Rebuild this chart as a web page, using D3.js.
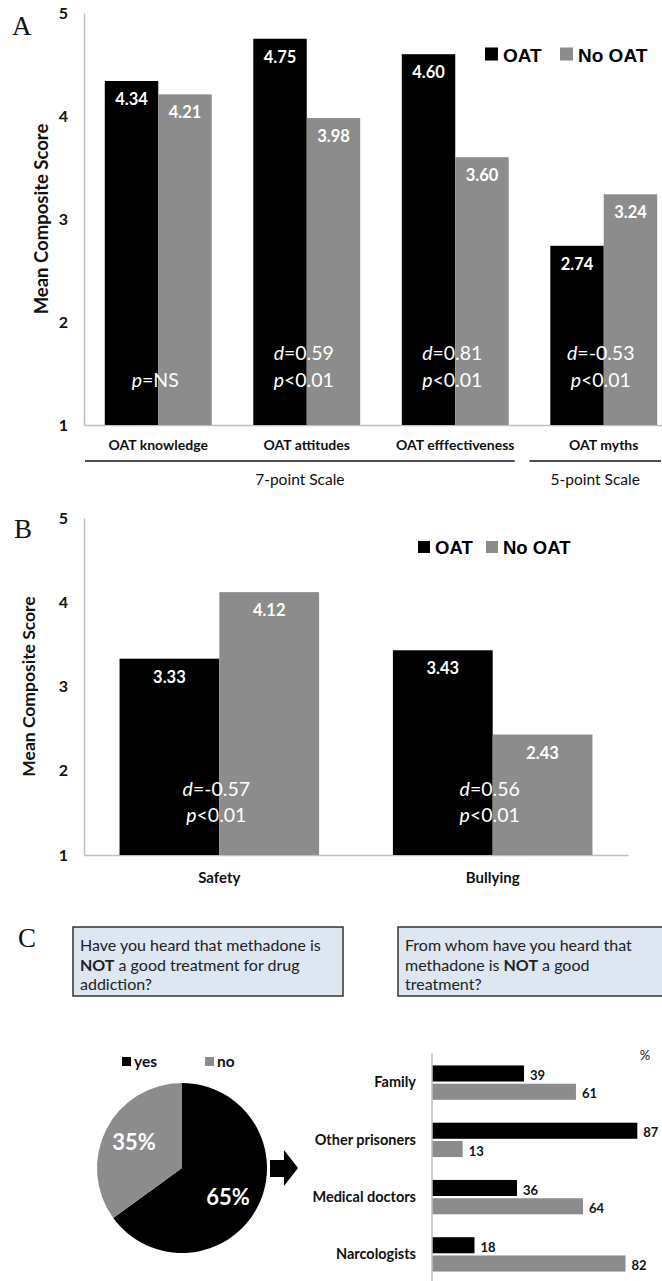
<!DOCTYPE html>
<html><head><meta charset="utf-8">
<script src="https://cdn.jsdelivr.net/npm/d3@7"></script>
<style>body{margin:0;background:#fff}svg{display:block}</style>
</head><body>
<svg id="c" width="662" height="1281"></svg>
<script>
// ---------- data ----------
const catsA = ["OAT knowledge","OAT attitudes","OAT efffectiveness","OAT myths"];
const oatA = [4.34,4.75,4.60,2.74];
const noOatA = [4.21,3.98,3.60,3.24];
const dA = [null,"0.59","0.81","-0.53"];
const pA = ["=NS","<0.01","<0.01","<0.01"];
const catsB = ["Safety","Bullying"];
const oatB = [3.33,3.43];
const noOatB = [4.12,2.43];
const dB = ["-0.57","0.56"];
const pB = ["<0.01","<0.01"];
const yTicks = [1,2,3,4,5];
const seriesNames = ["OAT","No OAT"];
const scaleGroups = [{label:"7-point Scale",from:0,to:2},{label:"5-point Scale",from:3,to:3}];
const pieLabels = ["yes","no"];
const pieValues = [65,35];
const sources = ["Family","Other prisoners","Medical doctors","Narcologists"];
const yesSrc = [39,87,36,18];
const noSrc = [61,13,64,82];
const q1 = [["Have you heard that methadone is"],["NOT"," a good treatment for drug"],["addiction?"]];
const q2 = [["From whom have you heard that"],["methadone is ","NOT"," a good"],["treatment?"]];

const BLACK="#000", GRAY="#8c8c8c", AX="#bfbfbf";
const F="Lato, 'Open Sans', sans-serif";
const svg = d3.select("#c");

function barPanel(o){
  const g = svg.append("g");
  const x = d3.scaleBand().domain(o.cats).range([84,o.xEnd]).paddingInner(o.pi).paddingOuter(o.po);
  const xs = d3.scaleBand().domain([0,1]).range([0,x.bandwidth()]);
  const y = d3.scaleLinear().domain([1,5]).range([o.y1,o.y5]);
  const ya = g.append("g").attr("transform","translate(84,0)")
    .call(d3.axisLeft(y).tickValues(yTicks).tickSize(0).tickPadding(16).tickFormat(d3.format("d")));
  ya.select(".domain").attr("stroke",AX).attr("stroke-width",1.5);
  ya.selectAll("text").attr("font-family",F).attr("font-weight","bold").attr("font-size",16).attr("fill","#111");
  const xa = g.append("g").attr("transform",`translate(0,${o.y1})`)
    .call(d3.axisBottom(x).tickSize(0).tickPadding(o.xPad));
  xa.select(".domain").attr("stroke",AX).attr("stroke-width",1.5);
  xa.selectAll("text").attr("font-family",F).attr("font-weight","bold").attr("font-size",o.xFs).attr("fill","#111");
  const rows = o.cats.map((c,i)=>({c,i,v:[o.oat[i],o.no[i]]}));
  const grp = g.selectAll("g.grp").data(rows).join("g").attr("class","grp")
    .attr("transform",d=>`translate(${x(d.c)},0)`);
  grp.selectAll("rect").data(d=>d.v.map((v,k)=>({v,k}))).join("rect")
    .attr("x",d=>xs(d.k)).attr("width",xs.bandwidth())
    .attr("y",d=>y(d.v)).attr("height",d=>y(1)-y(d.v))
    .attr("fill",d=>d.k===0?BLACK:GRAY);
  grp.selectAll("text.val").data(d=>d.v.map((v,k)=>({v,k}))).join("text").attr("class","val")
    .attr("x",d=>xs(d.k)+xs.bandwidth()/2).attr("y",d=>y(d.v)+24)
    .attr("text-anchor","middle").attr("font-family",F).attr("font-weight","bold")
    .attr("font-size",16.5).attr("fill","#fff").text(d=>d.v.toFixed(2));
  rows.forEach(r=>{
    const cx = x(r.c)+x.bandwidth()/2-3;
    const lines=[];
    if(o.d[r.i]!==null) lines.push(["d",o.d[r.i]]);
    lines.push(["p",o.p[r.i]]);
    const base = o.y1 - o.statOff;
    lines.forEach((ln,j)=>{
      const yy = base - (lines.length-1-j)*o.statGap;
      const t = g.append("text").attr("x",cx).attr("y",yy).attr("text-anchor","middle")
        .attr("font-family",F).attr("font-size",19.5).attr("fill","#fff");
      t.append("tspan").attr("font-style","italic").text(ln[0]);
      t.append("tspan").text(ln[0]==="d"?"="+ln[1]:ln[1]);
    });
  });
  g.append("text").attr("transform",`translate(${o.titleX},${(o.y1+o.y5)/2}) rotate(-90)`)
    .attr("text-anchor","middle").attr("dominant-baseline","central")
    .attr("font-family",F).attr("font-weight","bold").attr("font-size",o.titleFs).attr("fill","#111")
    .text("Mean Composite Score");
  g.append("text").attr("x",o.letterX).attr("y",o.letterY).attr("font-family","'Liberation Serif', serif")
    .attr("font-size",27).attr("fill","#111").text(o.letter);
  const lg = g.append("g").attr("transform",`translate(${o.legX},${o.legY})`);
  const lw = [0,o.legGap];
  seriesNames.forEach((s,k)=>{
    lg.append("rect").attr("x",lw[k]).attr("y",-o.legSq/2-1).attr("width",o.legSq).attr("height",o.legSq)
      .attr("fill",k===0?BLACK:GRAY);
    lg.append("text").attr("x",lw[k]+o.legSq+5).attr("y",0).attr("dy","0.35em")
      .attr("font-family","'Liberation Sans', Arial, sans-serif").attr("font-weight","bold")
      .attr("font-size",o.legFs).attr("fill","#000").text(s);
  });
  return {g,x,y};
}

const A = barPanel({cats:catsA,oat:oatA,no:noOatA,d:dA,p:pA,xEnd:678,pi:0.28,po:0.14,
  y1:425,y5:13,xPad:15,xFs:14,statOff:38,statGap:27,titleX:41,titleFs:18.5,letter:"A",letterX:12,letterY:35,
  legX:485,legY:55,legSq:13,legGap:75,legFs:19});
scaleGroups.forEach(sg=>{
  const x0 = sg.from===0 ? 85 : A.x(catsA[sg.from])-A.x.step()*0.14;
  const x1 = sg.to===catsA.length-1 ? 661 : A.x(catsA[sg.to])+A.x.bandwidth()+6;
  svg.append("line").attr("x1",x0).attr("x2",x1).attr("y1",461).attr("y2",461)
    .attr("stroke","#111").attr("stroke-width",1.5);
  svg.append("text").attr("x",(x0+x1)/2).attr("y",485).attr("text-anchor","middle")
    .attr("font-family",F).attr("font-size",15.5).attr("fill","#111").text(sg.label);
});

barPanel({cats:catsB,oat:oatB,no:noOatB,d:dB,p:pB,xEnd:628,pi:0.27,po:0.13,
  y1:855,y5:518,xPad:17,xFs:15,statOff:33,statGap:26,titleX:28,titleFs:17.5,letter:"B",letterX:14,letterY:538,
  legX:418,legY:548,legSq:12,legGap:68,legFs:18.5});

// ---------- Panel C ----------
svg.append("text").attr("x",18).attr("y",947).attr("font-family","'Liberation Serif', serif")
  .attr("font-size",27).attr("fill","#111").text("C");
function qbox(x0,x1,lines){
  svg.append("rect").attr("x",x0).attr("y",927).attr("width",x1-x0).attr("height",69)
    .attr("fill","#dde6f1").attr("stroke","#333").attr("stroke-width",1.5);
  lines.forEach((ln,i)=>{
    const t = svg.append("text").attr("x",x0+7).attr("y",951+i*19.5)
      .attr("font-family",F).attr("font-size",16).attr("fill","#222");
    ln.forEach(s=>t.append("tspan").attr("font-weight",s==="NOT"?"bold":"normal").text(s));
  });
}
qbox(73,343,q1);
qbox(398,668,q2);

const pie = d3.pie().sort(null).value(d=>d)(pieValues);
const arc = d3.arc().innerRadius(0).outerRadius(85);
const pg = svg.append("g").attr("transform","translate(182,1168)");
pg.selectAll("path").data(pie).join("path").attr("d",arc).attr("fill",(d,i)=>i===0?BLACK:GRAY);
const pieLblPos = [[46,37],[-48,-18]];
pg.selectAll("text").data(pie).join("text")
  .attr("x",(d,i)=>pieLblPos[i][0]).attr("y",(d,i)=>pieLblPos[i][1])
  .attr("text-anchor","middle").attr("font-family",F).attr("font-weight","bold").attr("font-size",22)
  .attr("fill","#fff").text(d=>d.value+"%");
const plx=[122,205];
pieLabels.forEach((l,i)=>{
  svg.append("rect").attr("x",plx[i]).attr("y",1057).attr("width",9).attr("height",9).attr("fill",i===0?BLACK:GRAY);
  svg.append("text").attr("x",plx[i]+12).attr("y",1062).attr("dy","0.35em")
    .attr("font-family",F).attr("font-weight","bold").attr("font-size",15.5).attr("fill","#111").text(l);
});
svg.append("path").attr("d","M270,1160 L284,1160 L284,1150 L298,1168 L284,1186 L284,1177 L270,1177 Z").attr("fill",BLACK);

const hx = d3.scaleLinear().domain([0,100]).range([432,668]);
const hy = d3.scaleBand().domain(sources).range([1054,1283]).paddingInner(0.4).paddingOuter(0.2);
const hs = d3.scaleBand().domain([0,1]).range([0,hy.bandwidth()]).paddingInner(0.12);
const hg = svg.append("g");
const hrows = sources.map((s,i)=>({s,v:[yesSrc[i],noSrc[i]]}));
const hgr = hg.selectAll("g").data(hrows).join("g").attr("transform",d=>`translate(0,${hy(d.s)})`);
hgr.selectAll("rect").data(d=>d.v.map((v,k)=>({v,k}))).join("rect")
  .attr("x",hx(0)).attr("y",d=>hs(d.k)).attr("width",d=>hx(d.v)-hx(0)).attr("height",hs.bandwidth())
  .attr("fill",d=>d.k===0?BLACK:GRAY);
hgr.selectAll("text").data(d=>d.v.map((v,k)=>({v,k}))).join("text")
  .attr("x",d=>hx(d.v)+6).attr("y",d=>hs(d.k)+hs.bandwidth()/2+2).attr("dy","0.35em")
  .attr("font-family",F).attr("font-weight","bold").attr("font-size",13).attr("fill","#111").text(d=>d.v);
const hya = hg.append("g").attr("transform","translate(432,0)")
  .call(d3.axisLeft(hy).tickSize(0).tickPadding(16));
hya.select(".domain").attr("stroke",AX).attr("stroke-width",1.5).attr("d","M0,1053V1281");
hya.selectAll("text").attr("font-family",F).attr("font-weight","bold").attr("font-size",14.5).attr("fill","#111");
svg.append("text").attr("x",645).attr("y",1055).attr("dy","0.35em").attr("text-anchor","middle")
  .attr("font-family",F).attr("font-size",13).attr("fill","#111").text("%");
</script>
</body></html>
